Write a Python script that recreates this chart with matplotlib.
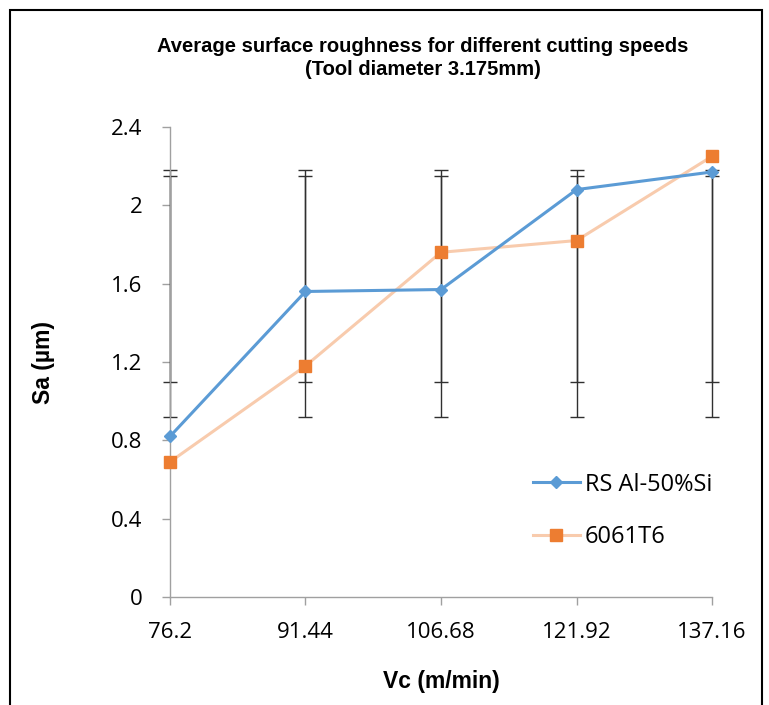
import matplotlib.pyplot as plt
from matplotlib.patches import Rectangle

# cutting speeds (m/min)
speeds = [76.2, 91.44, 106.68, 121.92, 137.16]
speed_labels = ['76.2', '91.44', '106.68', '121.92', '137.16']

# average Sa (um)
sa_rs_al = [0.82, 1.56, 1.57, 2.08, 2.17]
sa_6061 = [0.69, 1.18, 1.76, 1.82, 2.25]

# error bar ranges (outer and inner)
err_low_outer = [0.92, 0.92, 0.92, 0.92, 0.92]
err_high_outer = [2.18, 2.18, 2.18, 2.18, 2.18]
err_low_inner = [1.10, 1.10, 1.10, 1.10, 1.10]
err_high_inner = [2.15, 2.15, 2.15, 2.15, 2.15]

y_ticks = [0, 0.4, 0.8, 1.2, 1.6, 2.0, 2.4]
y_tick_labels = ['0', '0.4', '0.8', '1.2', '1.6', '2', '2.4']

blue = '#5B9BD5'
orange = '#ED7D31'
orange_line = '#F8CBAD'

fig = plt.figure(figsize=(7.69, 7.05), dpi=100)
ax = fig.add_axes([0.221, 0.153, 0.705, 0.667])

# error bars drawn around the midpoint of each range
for lo, hi in [(err_low_outer, err_high_outer), (err_low_inner, err_high_inner)]:
    mid = [(a + b) / 2 for a, b in zip(lo, hi)]
    half = [(b - a) / 2 for a, b in zip(lo, hi)]
    eb = ax.errorbar(speeds, mid, yerr=half, fmt='none', ecolor='#303030',
                     elinewidth=1, capsize=5, capthick=1, zorder=2)
    for art in eb.lines[1] + eb.lines[2]:
        art.set_clip_on(False)

l1, = ax.plot(speeds, sa_rs_al, color=blue, lw=2.2, marker='D', ms=6,
              label='RS Al-50%Si', zorder=4, clip_on=False)
l2, = ax.plot(speeds, sa_6061, color=orange_line, lw=2.2, marker='s', ms=8,
              mfc=orange, mec=orange, label='6061T6', zorder=3, clip_on=False)

ax.set_xlim(speeds[0], speeds[-1])
ax.set_ylim(0, 2.4)
ax.set_xticks(speeds)
ax.set_xticklabels(speed_labels)
ax.set_yticks(y_ticks)
ax.set_yticklabels(y_tick_labels)

for side in ['top', 'right']:
    ax.spines[side].set_visible(False)
for side in ['left', 'bottom']:
    ax.spines[side].set_color('#A0A0A0')
    ax.spines[side].set_linewidth(1)
ax.tick_params(axis='both', colors='#A0A0A0', length=6, width=1,
               labelcolor='black', labelsize=16)
ax.tick_params(axis='x', pad=12)
ax.tick_params(axis='y', pad=14)
for lbl in ax.get_xticklabels() + ax.get_yticklabels():
    lbl.set_fontfamily('Open Sans')

ax.set_xlabel('Vc (m/min)', fontsize=16.5, fontweight='bold',
              family='Liberation Sans', labelpad=19)
ax.set_ylabel('Sa (µm)', fontsize=16.5, fontweight='bold',
              family='Liberation Sans', labelpad=40)

fig.suptitle('Average surface roughness for different cutting speeds\n(Tool diameter 3.175mm)',
             x=0.55, y=0.948, fontsize=14.5, fontweight='bold',
             family='Liberation Sans', linespacing=1.3)

leg = ax.legend(loc='upper left', bbox_to_anchor=(0.63, 0.31), frameon=False,
                prop={'family': 'Open Sans', 'size': 17},
                labelspacing=1.2, handlelength=2.0, handletextpad=0.2)

# outer frame of the picture
fig.patches.append(Rectangle((10 / 769, -0.05), 752 / 769, 1.05 - 10 / 705,
                             transform=fig.transFigure, fill=False,
                             edgecolor='black', lw=1.5))

fig.savefig('out.png', dpi=100)
